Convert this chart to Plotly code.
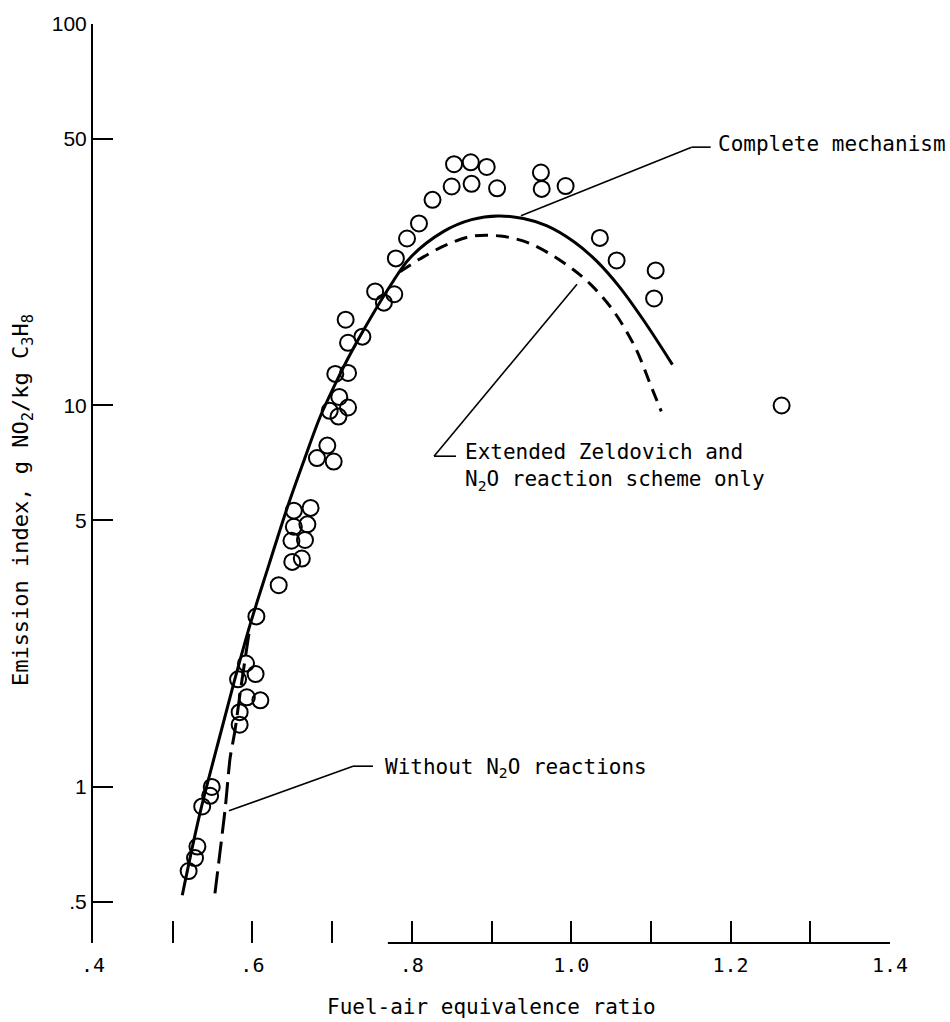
import plotly.graph_objects as go

# ---- data ----
phi_data = [0.520, 0.528, 0.531, 0.537, 0.547, 0.549, 0.584, 0.584, 0.593, 0.610,
            0.582, 0.604, 0.592, 0.605, 0.633, 0.650, 0.662, 0.649, 0.666, 0.652,
            0.669, 0.652, 0.673, 0.681, 0.702, 0.694, 0.697, 0.708, 0.720, 0.709,
            0.704, 0.720, 0.720, 0.738, 0.717, 0.765, 0.754, 0.778, 0.780, 0.794,
            0.809, 0.826, 0.850, 0.875, 0.907, 0.853, 0.874, 0.894, 0.962, 0.963,
            0.993, 1.036, 1.057, 1.106, 1.104, 1.264]
ei_data = [0.602, 0.651, 0.698, 0.889, 0.948, 1.00, 1.456, 1.571, 1.718, 1.687,
           1.915, 1.977, 2.107, 2.80, 3.38, 3.89, 3.97, 4.42, 4.44, 4.81,
           4.88, 5.30, 5.39, 7.28, 7.13, 7.85, 9.68, 9.35, 9.88, 10.53,
           12.1, 12.17, 14.6, 15.15, 16.78, 18.6, 19.9, 19.57, 24.3, 27.4,
           30.0, 34.6, 37.5, 38.1, 37.1, 42.9, 43.4, 42.2, 40.8, 36.96,
           37.6, 27.5, 24.0, 22.6, 19.08, 10.0]

phi_complete = [0.512, 0.534, 0.555, 0.576, 0.597, 0.620, 0.643, 0.665, 0.685, 0.704,
                0.720, 0.739, 0.773, 0.798, 0.840, 0.875, 0.908, 0.940, 0.969, 1.003,
                1.032, 1.061, 1.091, 1.127]
ei_complete = [0.52, 0.85, 1.26, 1.85, 2.66, 3.78, 5.34, 7.2, 9.34, 11.4,
               13.3, 15.7, 20.6, 24.4, 28.6, 30.7, 31.4, 30.9, 29.6, 26.9,
               23.9, 20.4, 16.7, 12.8]

phi_zeldovich = [0.785, 0.810, 0.844, 0.877, 0.911, 0.948, 0.994, 1.024,
                 1.053, 1.081, 1.099, 1.113]
ei_zeldovich = [22.4, 24.2, 26.4, 27.8, 27.8, 26.6, 23.4, 20.8,
                17.7, 14.1, 11.4, 9.65]

phi_no_n2o = [0.553, 0.566, 0.572, 0.578, 0.586, 0.596]
ei_no_n2o = [0.526, 0.883, 1.19, 1.40, 1.85, 2.55]

x_tick_vals = [0.4, 0.6, 0.8, 1.0, 1.2, 1.4]
x_tick_text = [".4", ".6", ".8", "1.0", "1.2", "1.4"]
x_minor_vals = [0.5, 0.7, 0.9, 1.1, 1.3]
y_tick_vals = [0.5, 1, 5, 10, 50, 100]
y_tick_text = [".5", "1", "5", "10", "50", "100"]

MONO = "DejaVu Sans Mono"
SANS = "Liberation Sans"

fig = go.Figure()

fig.add_trace(go.Scatter(
    x=phi_complete, y=ei_complete, mode="lines",
    line=dict(color="black", width=3, shape="spline", smoothing=1.0),
    hoverinfo="skip"))
fig.add_trace(go.Scatter(
    x=phi_zeldovich, y=ei_zeldovich, mode="lines",
    line=dict(color="black", width=3, dash="13px,8px", shape="spline", smoothing=1.0),
    hoverinfo="skip"))
fig.add_trace(go.Scatter(
    x=phi_no_n2o, y=ei_no_n2o, mode="lines",
    line=dict(color="black", width=3, dash="22px,8px", shape="spline", smoothing=0.6),
    hoverinfo="skip"))
fig.add_trace(go.Scatter(
    x=phi_data, y=ei_data, mode="markers",
    marker=dict(symbol="circle-open", size=16, color="black", line=dict(width=2, color="black")),
    hoverinfo="skip"))

# leader lines (paper coordinates)
leaders = [
    ([0.537, 0.751, 0.775], [0.7914, 0.8660, 0.8660]),
    ([0.6073, 0.4279, 0.4555], [0.7168, 0.5297, 0.5297]),
    ([0.1706, 0.3262, 0.3513], [0.1438, 0.1924, 0.1924]),
]
shapes = []
for xs, ys in leaders:
    for i in range(len(xs) - 1):
        shapes.append(dict(type="line", xref="paper", yref="paper",
                           x0=xs[i], y0=ys[i], x1=xs[i + 1], y1=ys[i + 1],
                           line=dict(color="black", width=1.6)))
# visible part of the x axis baseline
shapes.append(dict(type="line", xref="x", yref="paper", x0=0.77, x1=1.4, y0=0, y1=0,
                   line=dict(color="black", width=2)))

annotations = [
    dict(text="Complete mechanism", x=0.7817, y=0.8695, xref="paper", yref="paper",
         xanchor="left", yanchor="middle", showarrow=False,
         font=dict(family=MONO, size=21, color="black")),
    dict(text="Extended Zeldovich and<br>N<sub>2</sub>O reaction scheme only",
         x=0.4642, y=0.5175, xref="paper", yref="paper", align="left",
         xanchor="left", yanchor="middle", showarrow=False,
         font=dict(family=MONO, size=21, color="black")),
    dict(text="Without N<sub>2</sub>O reactions", x=0.3639, y=0.1903,
         xref="paper", yref="paper", xanchor="left", yanchor="middle", showarrow=False,
         font=dict(family=MONO, size=21, color="black")),
    dict(text="Fuel-air equivalence ratio", x=0.5, y=-0.0692,
         xref="paper", yref="paper", xanchor="center", yanchor="middle", showarrow=False,
         font=dict(family=MONO, size=21, color="black")),
    dict(text="Emission index, g NO<sub>2</sub>/kg C<sub>3</sub>H<sub>8</sub>",
         x=-0.089, y=0.482, xref="paper", yref="paper", textangle=-90,
         xanchor="center", yanchor="middle", showarrow=False,
         font=dict(family=MONO, size=22, color="black")),
]

fig.update_layout(
    width=950, height=1022,
    margin=dict(l=93, r=60, t=18, b=79),
    paper_bgcolor="white", plot_bgcolor="white",
    showlegend=False,
    shapes=shapes,
    annotations=annotations,
    xaxis=dict(range=[0.4, 1.4], tickmode="array", tickvals=x_tick_vals, ticktext=x_tick_text,
               ticks="inside", ticklen=22, tickwidth=2, tickcolor="black",
               minor=dict(tickmode="array", tickvals=x_minor_vals, ticks="inside",
                          ticklen=22, tickwidth=2, tickcolor="black", showgrid=False),
               ticklabelstandoff=8,
               showline=False, showgrid=False, zeroline=False,
               tickfont=dict(family=MONO, size=20, color="black")),
    yaxis=dict(type="log", range=[-0.409, 2.0], tickmode="array", tickvals=y_tick_vals,
               ticktext=y_tick_text, ticks="inside", ticklen=20, tickwidth=2, tickcolor="black",
               showline=True, linewidth=2, linecolor="black", showgrid=False, zeroline=False,
               tickfont=dict(family=SANS, size=21, color="black")),
)

fig.write_html("out.html")
